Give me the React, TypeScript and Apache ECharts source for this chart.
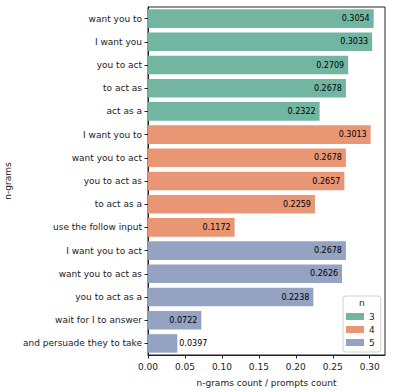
import React, { useEffect, useRef } from "react";
import * as echarts from "echarts";

const categories = [
  "want you to",
  "I want you",
  "you to act",
  "to act as",
  "act as a",
  "I want you to",
  "want you to act",
  "you to act as",
  "to act as a",
  "use the follow input",
  "I want you to act",
  "want you to act as",
  "you to act as a",
  "wait for I to answer",
  "and persuade they to take",
];
const values = [
  0.3054, 0.3033, 0.2709, 0.2678, 0.2322, 0.3013, 0.2678, 0.2657, 0.2259, 0.1172,
  0.2678, 0.2626, 0.2238, 0.0722, 0.0397,
];
const groups = [3, 3, 3, 3, 3, 4, 4, 4, 4, 4, 5, 5, 5, 5, 5];
const groupNames = ["3", "4", "5"];
const groupColors = ["#72b6a1", "#e99675", "#95a3c3"];
const xTicks = [0, 0.05, 0.1, 0.15, 0.2, 0.25, 0.3];

const FONT = "DejaVu Sans";
const FS = 9;

export default function App() {
  const ref = useRef<HTMLDivElement>(null);
  useEffect(() => {
    if (!ref.current) return;
    const chart = echarts.init(ref.current, null, { renderer: "svg" });
    const series = groupNames.map((g, gi) => ({
      type: "bar",
      name: g,
      stack: "all",
      barCategoryGap: "20%",
      itemStyle: { color: groupColors[gi] },
      label: {
        show: true,
        position: "insideRight",
        distance: 4,
        color: "#000",
        fontSize: 8,
        fontFamily: FONT,
        formatter: (p: any) => (p.value == null ? "" : Number(p.value).toFixed(4)),
      },
      data: values.map((v, i) => {
        if (String(groups[i]) !== g) return null;
        if (v < 0.05) {
          return { value: v, label: { position: "right", distance: 2 } };
        }
        return v;
      }),
    }));
    chart.setOption({
      animation: false,
      textStyle: { fontFamily: FONT },
      grid: {
        left: 148,
        right: 8,
        top: 7,
        bottom: 37,
        outerBoundsMode: "none",
        containLabel: false,
        show: true,
        borderColor: "#222",
        borderWidth: 1,
        backgroundColor: "transparent",
      },
      legend: {
        orient: "vertical",
        left: 343,
        top: 296,
        data: groupNames,
        padding: [15, 6, 4, 3],
        itemGap: 2,
        itemWidth: 18,
        itemHeight: 7,
        borderColor: "#d0d0d0",
        borderWidth: 1,
        borderRadius: 3,
        backgroundColor: "rgba(255,255,255,0.8)",
        icon: "rect",
        textStyle: { fontSize: FS, fontFamily: FONT, color: "#222", lineHeight: 11, padding: [0, 0, 0, 0] },
      },
      graphic: [
        {
          type: "text",
          left: 359,
          top: 298,
          style: { text: "n", fontSize: FS, fontFamily: FONT, fill: "#222" },
          z: 100,
        },
      ],
      xAxis: {
        type: "value",
        min: 0,
        max: 0.3207,
        interval: 0.05,
        name: "n-grams count / prompts count",
        nameLocation: "middle",
        nameGap: 23,
        nameTextStyle: { fontSize: FS, fontFamily: FONT, color: "#222" },
        axisLine: { show: true, lineStyle: { color: "#222" } },
        axisTick: { show: true, length: 3.5, lineStyle: { color: "#222" } },
        axisLabel: {
          fontSize: FS,
          fontFamily: FONT,
          color: "#222",
          margin: 7,
          showMaxLabel: false,
          formatter: (v: number) => (xTicks.some((t) => Math.abs(t - v) < 1e-9) ? v.toFixed(2) : ""),
        },
        splitLine: { show: false },
      },
      yAxis: {
        type: "category",
        data: categories,
        inverse: true,
        name: "n-grams",
        nameLocation: "middle",
        nameGap: 133,
        nameTextStyle: { fontSize: FS, fontFamily: FONT, color: "#222" },
        axisLine: { show: true, lineStyle: { color: "#222" } },
        axisTick: { show: true, length: 3.5, alignWithLabel: true, lineStyle: { color: "#222" } },
        axisLabel: { fontSize: FS, fontFamily: FONT, color: "#222", margin: 6 },
        splitLine: { show: false },
      },
      series,
    });
    return () => chart.dispose();
  }, []);
  return <div ref={ref} style={{ width: 393, height: 392, position: "absolute", left: 0, top: 0 }} />;
}
